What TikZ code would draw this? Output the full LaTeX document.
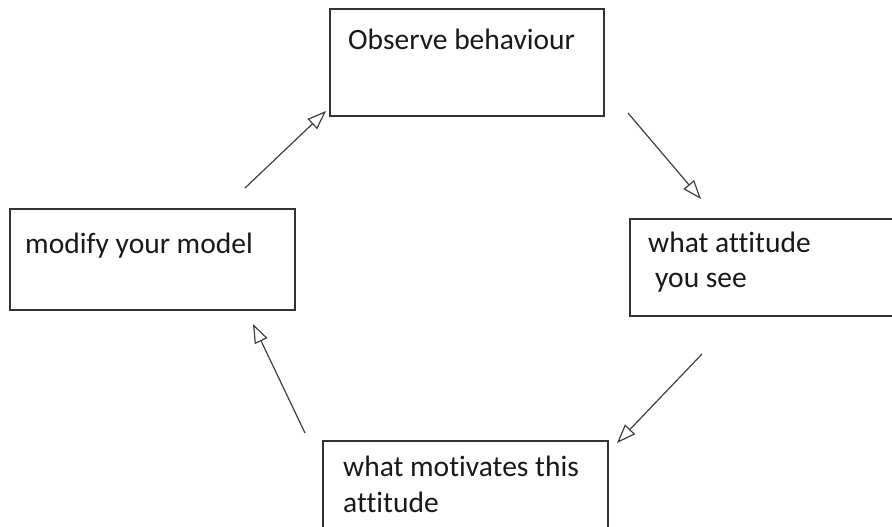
\documentclass[tikz,border=0pt]{standalone}
\usepackage{fontspec}
\setmainfont[RawFeature={-liga}]{Carlito}
\usetikzlibrary{arrows.meta}
\tikzset{
  boxnode/.style={draw=black!80, line width=1.6pt, rectangle, inner sep=0pt},
  lbl/.style={anchor=base west, inner sep=0pt, font=\fontsize{29.5}{35.5}\selectfont, text=black!90},
  conn/.style={draw=black!75, line width=1.2pt, -{Triangle[open, length=19pt, width=14pt, line width=1.2pt]}}
}
\begin{document}
\begin{tikzpicture}[x=1pt,y=-1pt]
\clip (0,0) rectangle (892,527);
\fill[white] (0,0) rectangle (892,527);
% boxes
\node[boxnode, minimum width=274pt, minimum height=107pt] (obs) at (467,62.5) {};
\node[boxnode, minimum width=285pt, minimum height=101pt] (mod) at (152.5,259.5) {};
\node[boxnode, minimum width=280pt, minimum height=97pt] (att) at (770,267.5) {};
\node[boxnode, minimum width=285pt, minimum height=100pt] (mot) at (465.5,491) {};
% texts
\node[lbl] (tobs) at (348,50) {Observe behaviour};
\node[lbl] (tmod) at (25,253) {modify your model};
\node[lbl] (tatt1) at (648,252) {what attitude};
\node[lbl] (tatt2) at (655,287) {you see};
\node[lbl] (tmot1) at (343,476) {what motivates this};
\node[lbl] (tmot2) at (343,512) {attitude};
% arrow endpoints
\coordinate (a1s) at (245,188);
\coordinate (a1e) at (326,111);
\coordinate (a2s) at (628,113);
\coordinate (a2e) at (701,199);
\coordinate (a3s) at (702,354);
\coordinate (a3e) at (617,443);
\coordinate (a4s) at (305,433);
\coordinate (a4e) at (253,324);
\draw[conn] (a1s) -- (a1e);
\draw[conn] (a2s) -- (a2e);
\draw[conn] (a3s) -- (a3e);
\draw[conn] (a4s) -- (a4e);
\end{tikzpicture}
\end{document}
